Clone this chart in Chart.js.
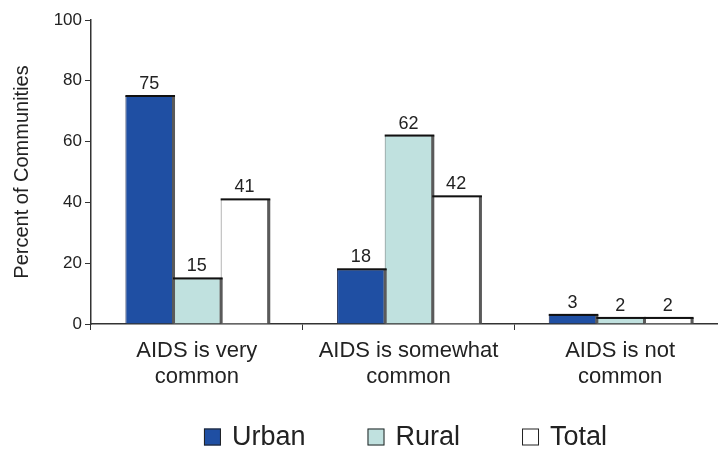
<!DOCTYPE html>
<html>
<head>
<meta charset="utf-8">
<script src="https://cdn.jsdelivr.net/npm/chart.js@4.4.1/dist/chart.umd.min.js"></script>
<style>
  html, body { margin: 0; padding: 0; background: #fff; overflow: hidden; }
  #wrap { width: 726px; height: 449px; position: relative; }
</style>
</head>
<body>
<div id="wrap"><canvas id="myChart"></canvas></div>
<script>
// data
const categories = [['AIDS is very', 'common'], ['AIDS is somewhat', 'common'], ['AIDS is not', 'common']];
const seriesNames = ['Urban', 'Rural', 'Total'];
const urban = [75, 18, 3];
const rural = [15, 62, 2];
const total = [41, 42, 2];
const yTicks = [0, 20, 40, 60, 80, 100];

const FONT = "'Liberation Sans', Arial, Helvetica, sans-serif";
const INK = '#222';

// 약간 입체감: 오른쪽 그림자 + 윗변 검은 선 + 값 라벨
const barDeco = {
    id: 'barDeco',
    afterDatasetsDraw(chart) {
        const ctx = chart.ctx;
        ctx.save();
        chart.data.datasets.forEach((ds, di) => {
            const meta = chart.getDatasetMeta(di);
            meta.data.forEach((bar, i) => {
                const left = bar.x - bar.width / 2;
                const right = bar.x + bar.width / 2;
                // shadow on right side
                ctx.fillStyle = '#5a5a5a';
                ctx.fillRect(right - 1, bar.y, 3, bar.base - bar.y);
                // top edge
                ctx.fillStyle = '#111';
                ctx.fillRect(left, bar.y - 1, right - left + 2, 2);
                // value label
                ctx.fillStyle = INK;
                ctx.font = '18px ' + FONT;
                ctx.textAlign = 'center';
                ctx.textBaseline = 'alphabetic';
                ctx.fillText(ds.data[i], bar.x, bar.y - 7);
            });
        });
        ctx.restore();
    }
};

// 범례는 직접 그림 (항목 간격이 넓어서)
const bottomLegend = {
    id: 'bottomLegend',
    afterDraw(chart) {
        const ctx = chart.ctx;
        const area = chart.chartArea;
        const box = 17, gapText = 11, gapItem = 62;
        ctx.save();
        ctx.font = '27px ' + FONT;
        const items = chart.data.datasets.map(ds => ({
            text: ds.label, color: ds.backgroundColor, w: ctx.measureText(ds.label).width
        }));
        let full = 0;
        items.forEach((it, i) => { full += box + gapText + it.w + (i ? gapItem : 0); });
        let x = (area.left + area.right) / 2 - full / 2 - 3;
        const cy = 437;
        items.forEach(it => {
            ctx.fillStyle = it.color;
            ctx.fillRect(x, cy - box / 2, box, box);
            ctx.strokeStyle = '#222';
            ctx.lineWidth = 1;
            ctx.strokeRect(x + 0.5, cy - box / 2 + 0.5, box - 1, box - 1);
            ctx.fillStyle = INK;
            ctx.textAlign = 'left';
            ctx.textBaseline = 'middle';
            ctx.fillText(it.text, x + box + gapText, cy + 1);
            x += box + gapText + it.w + gapItem;
        });
        ctx.restore();
    }
};

const ctx = document.getElementById('myChart');
new Chart(ctx, {
    type: 'bar',
    data: {
        labels: categories,
        datasets: [
            { label: seriesNames[0], data: urban, backgroundColor: '#1f4fa3', borderColor: '#1a2a55', borderWidth: 1 },
            { label: seriesNames[1], data: rural, backgroundColor: '#c0e1df', borderColor: '#6a7a7a', borderWidth: 1 },
            { label: seriesNames[2], data: total, backgroundColor: '#ffffff', borderColor: '#777', borderWidth: 1 }
        ]
    },
    options: {
        responsive: true,
        maintainAspectRatio: false,
        animation: false,
        layout: { padding: { top: 20, left: 0, right: 0, bottom: 55 } },
        datasets: { bar: { categoryPercentage: 0.675, barPercentage: 1.0 } },
        plugins: {
            tooltip: { enabled: false },
            legend: { display: false }
        },
        scales: {
            x: {
                afterFit(scale) { scale.height = 70; },
                border: { display: true, color: '#333', width: 1.5 },
                grid: { display: true, drawOnChartArea: false, drawTicks: true, tickLength: 6, color: '#333' },
                ticks: { color: INK, font: { family: FONT, size: 22, lineHeight: 1.18 }, padding: 8, maxRotation: 0 }
            },
            y: {
                min: 0,
                max: 100,
                afterFit(scale) { scale.width = 91; },
                afterBuildTicks(scale) { scale.ticks = yTicks.map(v => ({ value: v })); },
                border: { display: true, color: '#333', width: 1.5 },
                grid: { display: true, drawOnChartArea: false, drawTicks: true, tickLength: 6, color: '#333' },
                ticks: { color: INK, font: { family: FONT, size: 17 }, padding: 3 },
                title: { display: true, text: 'Percent of Communities', color: INK, font: { family: FONT, size: 20 }, padding: { top: 10, bottom: 0 } }
            }
        }
    },
    plugins: [barDeco, bottomLegend]
});
</script>
</body>
</html>
